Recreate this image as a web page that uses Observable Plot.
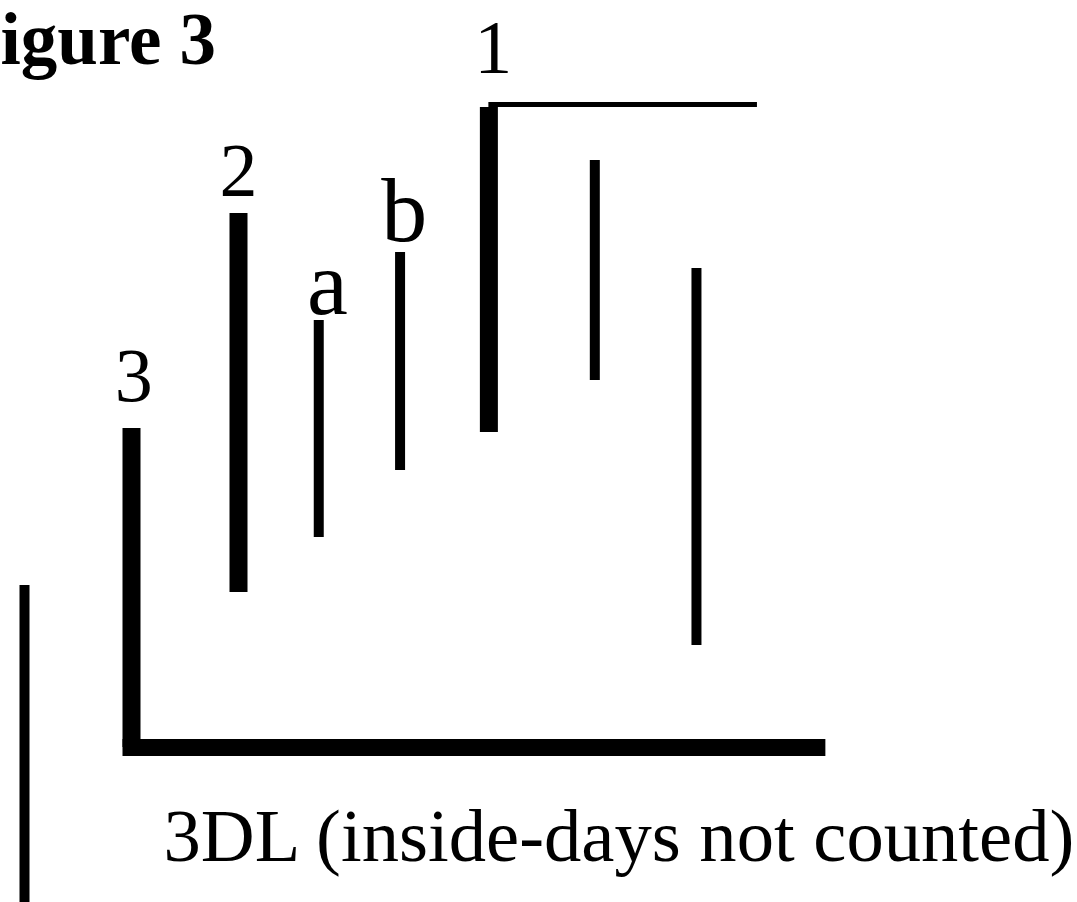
<!DOCTYPE html>
<html>
<head>
<meta charset="utf-8">
<script src="https://cdn.jsdelivr.net/npm/d3@7"></script>
<script src="https://cdn.jsdelivr.net/npm/@observablehq/plot@0.6"></script>
<style>
  html, body { margin: 0; padding: 0; background: #fff; }
  #chart svg { display: block; }
</style>
</head>
<body>
<div id="chart"></div>
<script>
// Schematic price bars (arbitrary price units), left to right
const days     = ["prior", "3", "2", "a", "b", "1", "after1", "after2"];
const dayPos   = [0, 1, 2, 2.75, 3.51, 4.34, 5.33, 6.28];
const highs    = [31.7, 47.4, 68.9, 58.2, 65.0, 79.5, 74.2, 63.4];
const lows     = [0, 15.5, 31.0, 36.5, 43.2, 47.0, 52.2, 25.7];
const barKind  = ["thin", "thick", "thick", "thin", "thin", "thick", "thin", "thin"];

// Bar labels
const labelText  = ["3", "2", "a", "b", "1"];
const labelPos   = [1.02, 2.0, 2.83, 3.55, 4.38];
const labelPrice = [50.2, 70.7, 58.9, 66.2, 83.0];
const labelKind  = ["digit", "digit", "letter", "letter", "digit"];

// 3DL line (low of bar 3 extended) and the high line from bar 1
const lineKind  = ["3DL", "high"];
const lineLevel = [15.5, 79.8];
const lineFrom  = [1, 4.34];
const lineTo    = [7.41, 6.85];

const titleText   = "igure 3";
const captionText = "3DL (inside-days not counted)";

const bars = days.map((d, i) => ({day: d, x: dayPos[i], high: highs[i], low: lows[i], kind: barKind[i]}));
const labels = labelText.map((t, i) => ({text: t, x: labelPos[i], y: labelPrice[i], kind: labelKind[i]}));
const lines = lineKind.map((k, i) => ({kind: k, y: lineLevel[i], x1: lineFrom[i], x2: lineTo[i]}));

const serif = "Liberation Serif, Times New Roman, serif";

const chart = Plot.plot({
  width: 1077,
  height: 902,
  margin: 0,
  style: {background: "#fff", fontFamily: serif},
  x: {domain: [-0.2243, 9.8411], axis: null},
  y: {domain: [0, 90.2], axis: null},
  marks: [
    Plot.ruleX(bars.filter(d => d.kind === "thick"), {x: "x", y1: "low", y2: "high", stroke: "#000", strokeWidth: 18}),
    Plot.ruleX(bars.filter(d => d.kind === "thin"), {x: "x", y1: "low", y2: "high", stroke: "#000", strokeWidth: 10}),
    Plot.ruleY(lines.filter(d => d.kind === "3DL"), {y: "y", x1: "x1", x2: "x2", stroke: "#000", strokeWidth: 17, strokeLinecap: "square"}),
    Plot.ruleY(lines.filter(d => d.kind === "high"), {y: "y", x1: "x1", x2: "x2", stroke: "#000", strokeWidth: 5}),
    Plot.text(labels.filter(d => d.kind === "digit"), {x: "x", y: "y", text: "text", fontSize: 76, lineAnchor: "bottom", textAnchor: "middle", fill: "#000", fontFamily: serif}),
    Plot.text(labels.filter(d => d.kind === "letter"), {x: "x", y: "y", text: "text", fontSize: 92, lineAnchor: "bottom", textAnchor: "middle", fill: "#000", fontFamily: serif}),
    Plot.text([titleText], {text: d => d, frameAnchor: "top-left", dx: 0, dy: 63, lineAnchor: "bottom", textAnchor: "start", fontSize: 73, fontWeight: "bold", fill: "#000", fontFamily: serif}),
    Plot.text([captionText], {text: d => d, frameAnchor: "top-left", dx: 163, dy: 860, lineAnchor: "bottom", textAnchor: "start", fontSize: 74.6, fill: "#000", fontFamily: serif})
  ]
});
document.getElementById("chart").appendChild(chart);
</script>
</body>
</html>
